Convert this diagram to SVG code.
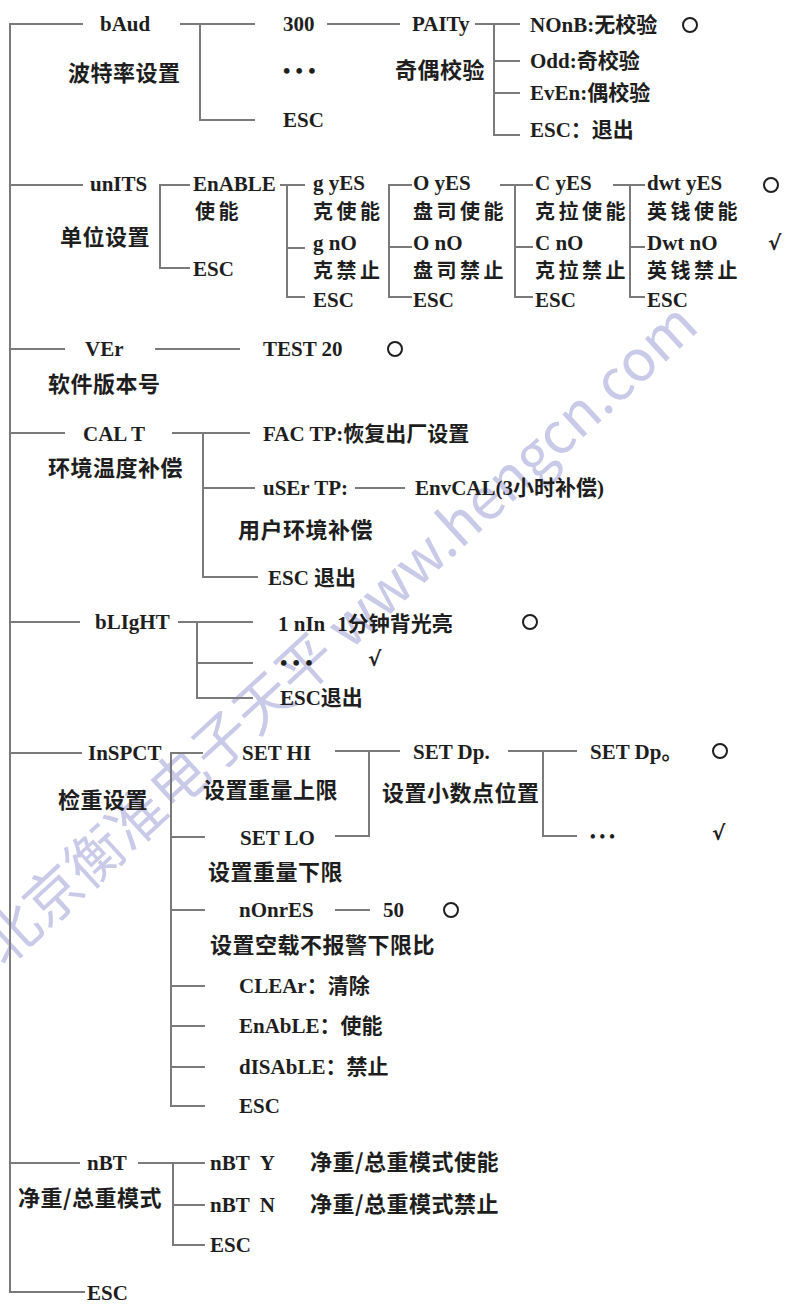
<svg xmlns="http://www.w3.org/2000/svg" width="787" height="1305" viewBox="0 0 787 1305">
<style>
.t{font-family:"Liberation Serif","Noto Sans CJK SC",serif;font-weight:bold;font-size:21px;fill:#1e1e1e}
.c{font-family:"Noto Sans CJK SC",sans-serif;font-weight:bold;font-size:22px;fill:#1e1e1e;letter-spacing:0.5px}
.cw{font-family:"Noto Sans CJK SC",sans-serif;font-weight:bold;font-size:20px;fill:#1e1e1e;letter-spacing:3.5px}
.ln{fill:none;stroke:#7a7a7a;stroke-width:2}
.o{fill:none;stroke:#1e1e1e;stroke-width:2}
.ck{font-family:"DejaVu Sans",sans-serif;font-weight:bold;font-size:20px;fill:#1e1e1e}
.dot{font-family:"Liberation Serif",serif;font-weight:bold;font-size:16px;fill:#1e1e1e}
.wm{font-family:"Noto Sans CJK SC",sans-serif;font-size:57px;fill:#9c9cd6;fill-opacity:0.55}
</style>
<g id="watermark">
<text class="wm" transform="translate(4,968) rotate(-42.5)">北京衡准电子天平 www.hengcn.com</text>
</g>
<g id="connectors">
<path class="ln" d="M83,24 H10 V1292 H85"/>
<path class="ln" d="M180,24 H255 M200,24 V120 H255 M327,24 H400"/>
<path class="ln" d="M475,24 H520 M494,24 V135 H520 M494,61 H520 M494,93 H520"/>
<path class="ln" d="M10,185 H83 M190,185 H160 V268 H190"/>
<path class="ln" d="M280,185 H305 M287,185 V297 H305 M287,248 H305"/>
<path class="ln" d="M412,185 H389 V297 H412 M389,247 H412"/>
<path class="ln" d="M500,185 H533 M515,185 V297 H533 M515,247 H533"/>
<path class="ln" d="M613,185 H645 M630,185 V297 H645 M630,247 H645"/>
<path class="ln" d="M10,349 H65 M155,349 H240"/>
<path class="ln" d="M10,433 H65 M172,433 H250 M203,433 V577 H258 M203,488 H255 M355,488 H405"/>
<path class="ln" d="M10,622 H80 M178,622 H253 M197,622 V698 H253 M197,663 H253"/>
<path class="ln" d="M10,753 H82 M203,753 H171 V1106 H205 M171,837 H205 M171,910 H205 M171,986 H205 M171,1026 H205 M171,1067 H205"/>
<path class="ln" d="M335,751 H400 M369,751 V836 H335 M508,751 H577 M543,751 V836 H577 M335,910 H370"/>
<path class="ln" d="M10,1163 H80 M138,1163 H205 M173,1163 V1245 H205 M173,1205 H205"/>
</g>
<g id="bAud"><text class="t" x="100" y="31">bAud</text><text class="c" x="68" y="81">波特率设置</text></g>
<g id="baud-300"><text class="t" x="283" y="31">300</text></g>
<g id="baud-more"><text class="t" x="283" y="78">• • •</text></g>
<g id="baud-esc"><text class="t" x="283" y="127">ESC</text></g>
<g id="PAITy"><text class="t" x="412" y="31">PAITy</text><text class="c" x="395" y="78">奇偶校验</text></g>
<g id="none"><text class="t" x="530" y="32">NOnB:无校验</text><circle class="o" cx="690" cy="25" r="7"/></g>
<g id="odd"><text class="t" x="530" y="68">Odd:奇校验</text></g>
<g id="even"><text class="t" x="530" y="100">EvEn:偶校验</text></g>
<g id="parity-esc"><text class="t" x="530" y="137">ESC：退出</text></g>

<g id="unITS"><text class="t" x="90" y="191">unITS</text><text class="c" x="60" y="245">单位设置</text></g>
<g id="enable"><text class="t" x="193" y="191">EnABLE</text><text class="cw" x="195" y="219">使能</text></g>
<g id="units-esc"><text class="t" x="193" y="276">ESC</text></g>
<g id="g-yes"><text class="t" x="313" y="190">g yES</text><text class="cw" x="313" y="219">克使能</text></g>
<g id="g-no"><text class="t" x="313" y="250">g nO</text><text class="cw" x="313" y="278">克禁止</text></g>
<g id="g-esc"><text class="t" x="313" y="307">ESC</text></g>
<g id="o-yes"><text class="t" x="413" y="190">O yES</text><text class="cw" x="413" y="219">盘司使能</text></g>
<g id="o-no"><text class="t" x="413" y="250">O nO</text><text class="cw" x="413" y="278">盘司禁止</text></g>
<g id="o-esc"><text class="t" x="413" y="307">ESC</text></g>
<g id="c-yes"><text class="t" x="535" y="190">C yES</text><text class="cw" x="535" y="219">克拉使能</text></g>
<g id="c-no"><text class="t" x="535" y="250">C nO</text><text class="cw" x="535" y="278">克拉禁止</text></g>
<g id="c-esc"><text class="t" x="535" y="307">ESC</text></g>
<g id="dwt-yes"><text class="t" x="647" y="190">dwt yES</text><text class="cw" x="647" y="219">英钱使能</text><circle class="o" cx="771" cy="185" r="7"/></g>
<g id="dwt-no"><text class="t" x="647" y="250">Dwt nO</text><text class="cw" x="647" y="278">英钱禁止</text><text class="ck" x="768" y="250">√</text></g>
<g id="dwt-esc"><text class="t" x="647" y="307">ESC</text></g>

<g id="VEr"><text class="t" x="85" y="356">VEr</text><text class="c" x="48" y="392">软件版本号</text></g>
<g id="test20"><text class="t" x="263" y="356">TEST 20</text><circle class="o" cx="395" cy="349" r="7"/></g>

<g id="CALT"><text class="t" x="83" y="441">CAL T</text><text class="c" x="48" y="476">环境温度补偿</text></g>
<g id="factp"><text class="t" x="263" y="441">FAC TP:恢复出厂设置</text></g>
<g id="usertp"><text class="t" x="263" y="495">uSEr TP:</text><text class="c" x="238" y="538">用户环境补偿</text></g>
<g id="envcal"><text class="t" x="415" y="495">EnvCAL(3小时补偿)</text></g>
<g id="calt-esc"><text class="t" x="268" y="585">ESC 退出</text></g>

<g id="bLIgHT"><text class="t" x="95" y="629">bLIgHT</text></g>
<g id="1min"><text class="t" x="278" y="631">1 nIn<tspan dx="12">1分钟背光亮</tspan></text><circle class="o" cx="530" cy="622" r="7"/></g>
<g id="blight-more"><text class="t" x="280" y="670">• • •</text><text class="ck" x="368" y="666">√</text></g>
<g id="blight-esc"><text class="t" x="280" y="705">ESC退出</text></g>

<g id="InSPCT"><text class="t" x="88" y="760">InSPCT</text><text class="c" x="58" y="808">检重设置</text></g>
<g id="sethi"><text class="t" x="242" y="760">SET HI</text><text class="c" x="203" y="798">设置重量上限</text></g>
<g id="setlo"><text class="t" x="240" y="845">SET LO</text><text class="c" x="208" y="880">设置重量下限</text></g>
<g id="setdp"><text class="t" x="413" y="759">SET Dp.</text><text class="c" x="382" y="801">设置小数点位置</text></g>
<g id="setdp-1"><text class="t" x="590" y="759">SET Dp。</text><circle class="o" cx="720" cy="751" r="7"/></g>
<g id="setdp-more"><text class="dot" x="590" y="842">• • •</text><text class="ck" x="712" y="840">√</text></g>
<g id="nOnrES"><text class="t" x="239" y="917">nOnrES</text><text class="c" x="210" y="953">设置空载不报警下限比</text></g>
<g id="n50"><text class="t" x="383" y="917">50</text><circle class="o" cx="451" cy="910" r="7"/></g>
<g id="clear"><text class="t" x="239" y="993">CLEAr：清除</text></g>
<g id="inspct-enable"><text class="t" x="239" y="1033">EnAbLE：使能</text></g>
<g id="inspct-disable"><text class="t" x="239" y="1074">dISAbLE：禁止</text></g>
<g id="inspct-esc"><text class="t" x="239" y="1113">ESC</text></g>

<g id="nBT"><text class="t" x="87" y="1170">nBT</text><text class="c" x="18" y="1206">净重/总重模式</text></g>
<g id="nbt-y"><text class="t" x="210" y="1170">nBT<tspan dx="10">Y</tspan></text><text class="c" x="310" y="1170">净重/总重模式使能</text></g>
<g id="nbt-n"><text class="t" x="210" y="1212">nBT<tspan dx="10">N</tspan></text><text class="c" x="310" y="1212">净重/总重模式禁止</text></g>
<g id="nbt-esc"><text class="t" x="210" y="1252">ESC</text></g>
<g id="main-esc"><text class="t" x="87" y="1300">ESC</text></g>
</svg>
